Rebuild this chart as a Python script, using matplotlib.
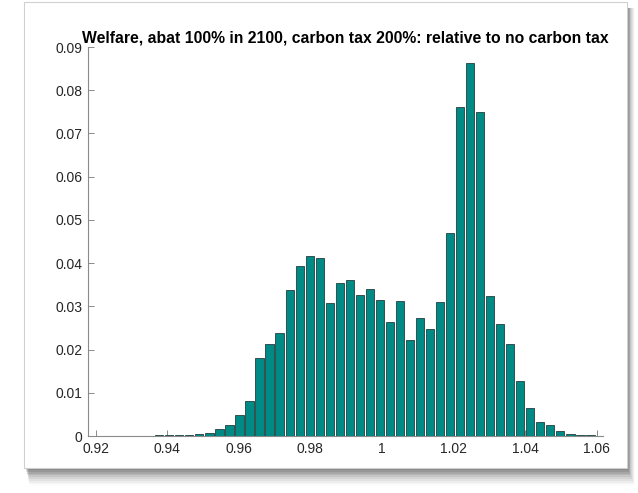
import numpy as np
import matplotlib
matplotlib.use("Agg")
import matplotlib.pyplot as plt
from matplotlib.patches import Rectangle
from matplotlib.ticker import FuncFormatter

# ---- data -------------------------------------------------------------
bin_first_center = 0.921
bin_width = 0.0028
probabilities = [
    0.0001, 0.0001, 0.0001, 0.0001, 0.0001, 0.0001, 0.0002, 0.0002, 0.0002, 0.0002,
    0.0005, 0.0007, 0.0016, 0.0026, 0.0049, 0.0082, 0.0181, 0.0212, 0.0239, 0.0337,
    0.0394, 0.0416, 0.0412, 0.0308, 0.0354, 0.0361, 0.0326, 0.0339, 0.0314, 0.0264,
    0.0312, 0.0221, 0.0272, 0.0247, 0.0311, 0.0470, 0.0762, 0.0862, 0.0750, 0.0324,
    0.0259, 0.0212, 0.0127, 0.0064, 0.0033, 0.0025, 0.0012, 0.0005, 0.0002, 0.0002,
]
bin_centers = bin_first_center + bin_width * np.arange(len(probabilities))
x_ticks = [0.92, 0.94, 0.96, 0.98, 1.00, 1.02, 1.04, 1.06]
y_ticks = [0, 0.01, 0.02, 0.03, 0.04, 0.05, 0.06, 0.07, 0.08, 0.09]
title = "Welfare, abat 100% in 2100, carbon tax 200%: relative to no carbon tax"

# ---- figure -----------------------------------------------------------
W, H = 638, 493
fig = plt.figure(figsize=(W / 100, H / 100), dpi=100)
fig.patch.set_facecolor("white")

def px_rect(x0, y0, x1, y1, **kw):
    # pixel coords with origin at top-left
    return Rectangle((x0 / W, 1 - y1 / H), (x1 - x0) / W, (y1 - y0) / H,
                     transform=fig.transFigure, **kw)

# drop shadow (soft gradient)
for i in range(10):
    a = 0.16 * (1 - i / 10)
    fig.patches.append(px_rect(26 + i * 0.4, 8, 628 + i * 0.8, 470 + i * 1.8,
                               facecolor="#404040", edgecolor="none", alpha=a, zorder=0))
# white card
fig.patches.append(px_rect(24, 2, 627, 468, facecolor="white",
                           edgecolor="#d0d0d0", linewidth=0.8, zorder=1))

ax = fig.add_axes([88 / W, 1 - 436 / H, (603 - 88) / W, (436 - 47) / H])
ax.set_zorder(2)
ax.patch.set_alpha(0)

ax.bar(bin_centers, probabilities, width=bin_width * 0.82,
       color="#008a86", edgecolor="#24403f", linewidth=0.6, zorder=3)

ax.set_xlim(0.9179, 1.0617)
ax.set_ylim(0, 0.09)
ax.set_xticks(x_ticks)
ax.set_yticks(y_ticks)
fmt = FuncFormatter(lambda v, p: f"{v:g}")
ax.xaxis.set_major_formatter(fmt)
ax.yaxis.set_major_formatter(fmt)

for s in ["top", "right"]:
    ax.spines[s].set_visible(False)
for s in ["left", "bottom"]:
    ax.spines[s].set_color("#8a8a8a")
    ax.spines[s].set_linewidth(0.8)

ax.tick_params(direction="in", length=4, width=0.7, color="#8a8a8a",
               labelsize=10, labelcolor="#262626", pad=4)
for lab in ax.get_xticklabels() + ax.get_yticklabels():
    lab.set_family(["Liberation Sans", "DejaVu Sans"])

ax.set_title(title, fontsize=11.3, fontweight="bold",
             family=["Liberation Sans", "DejaVu Sans"], pad=3, color="black")

fig.savefig("out.png", dpi=100)
